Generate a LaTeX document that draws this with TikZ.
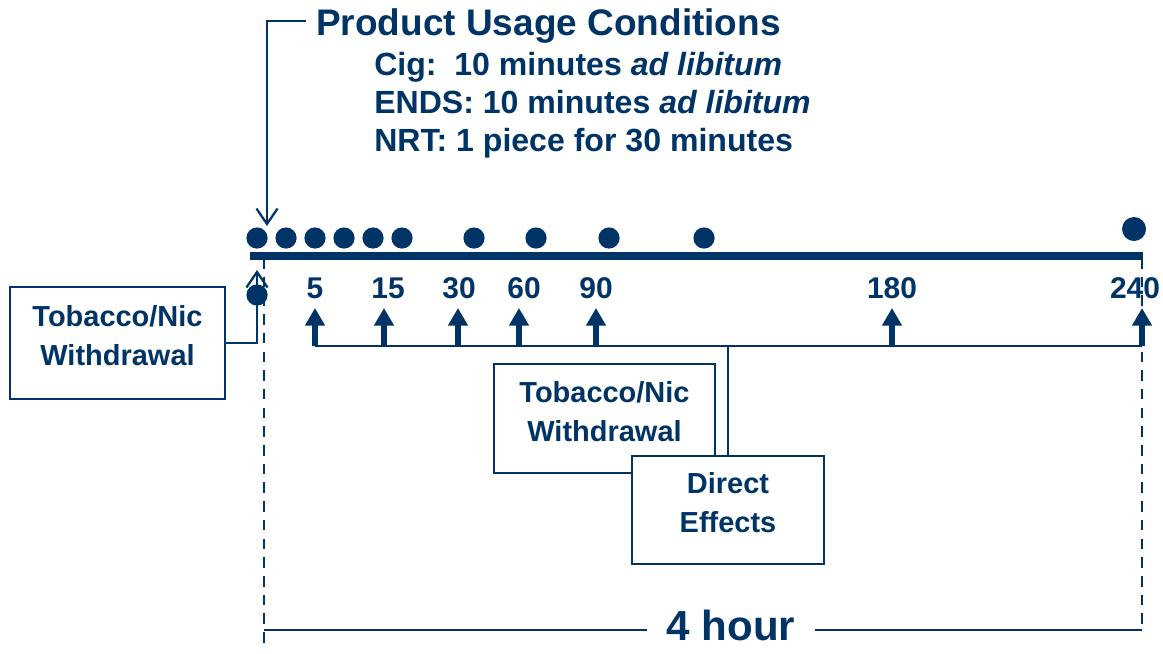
\documentclass[tikz,border=0pt]{standalone}
\usepackage{fontspec}
\setmainfont{Liberation Sans}
\usepackage{tikz}
\usetikzlibrary{arrows.meta,positioning,calc}
\definecolor{navy}{RGB}{0,51,102}

\tikzset{
	tdot/.style={circle,fill=navy,inner sep=0pt,minimum size=0.53cm},
	thinline/.style={navy,line width=1.6pt},
	wbox/.style={draw=navy,fill=white,line width=1.8pt,inner sep=0pt},
	boxtext/.style={text=navy,align=center,inner sep=0pt,font=\fontsize{20.6pt}{27.7pt}\selectfont\bfseries},
	ticklabel/.style={text=navy,anchor=base,inner sep=0pt,font=\fontsize{21.3pt}{25pt}\selectfont\bfseries},
	uparrow/.style={navy,line width=4.8pt,-{Triangle[width=13.5pt,length=12.5pt]}},
	openarrow/.style={thinline,-{Straight Barb[width=15pt,length=11pt]}},
	dashline/.style={navy,line width=1.9pt,dash pattern=on 7.5pt off 5.8pt},
	cond/.style={text=navy,anchor=base west,inner sep=0pt,font=\fontsize{22.8pt}{27pt}\selectfont\bfseries}
}

\begin{document}
\begin{tikzpicture}[x=0.025cm,y=-0.025cm]
	\useasboundingbox (0,0) rectangle (1163,653);
	% usage conditions
	\node[cond,font=\fontsize{26.3pt}{30pt}\selectfont\bfseries] (title) at (316,35) {Product Usage Conditions};
	\node[cond] (cig) at (374,75) {Cig:\ \ 10 minutes \textit{ad libitum}};
	\node[cond] (ends) at (374,113) {ENDS: 10 minutes \textit{ad libitum}};
	\node[cond] (nrt) at (374,151) {NRT: 1 piece for 30 minutes};
	\coordinate (tipT) at (267,226);
	\draw[openarrow] ([xshift=-7pt,yshift=3pt]title.west) -| (tipT);

	% timeline
	\coordinate (a0) at (250,256);
	\coordinate (a1) at (1143,256);
	\draw[navy,line width=5pt] (a0) -- (a1);
	\foreach \x [count=\i] in {257,286,315,344,373,402,474,536,609,704}
		\node[tdot] (d\i) at (\x,238) {};
	\node[tdot,minimum size=0.6cm] (dend) at (1134,229) {};

	% sample times
	\coordinate (brk0) at (315,346);
	\coordinate (brk1) at (1142,346);
	\draw[thinline] (brk0) -- (brk1);
	\foreach \t/\lx/\ax in {5/315/315,15/388/384,30/459/458,60/524/519,90/596/596,180/892/892,240/1135/1142}{
		\node[ticklabel] (t\t) at (\lx,298) {\t};
		\coordinate (u\t) at (\ax,308);
		\draw[uparrow] (u\t |- brk0) -- (u\t);
	}

	% boxes
	\node[wbox,minimum width=5.525cm,minimum height=2.725cm] (wd1) at (604.5,418.5) {};
	\node[boxtext] (wd1t) at ([yshift=5pt]wd1.center) {Tobacco/Nic\\Withdrawal};
	\node[wbox,minimum width=4.8cm,minimum height=2.7cm] (de) at (728,510) {};
	\node[boxtext] (det) at ([yshift=5pt]de.center) {Direct\\Effects};
	\draw[thinline] (de.north |- brk0) -- (de.north);

	\node[wbox,minimum width=5.375cm,minimum height=2.8cm] (wd0) at (117.5,343) {};
	\node[boxtext] (wd0t) at ([yshift=5pt]wd0.center) {Tobacco/Nic\\Withdrawal};
	\coordinate (tip0) at (257,270);
	\draw[openarrow] (wd0.east) -| (tip0);
	\node[tdot] (d0) at (257,295) {};

	% 4 hour span
	\node[anchor=base,text=navy,inner xsep=14pt,inner ysep=0pt,font=\fontsize{29.9pt}{34pt}\selectfont\bfseries] (hr) at (731,640) {4 hour};
	\coordinate (bl) at (264,630);
	\coordinate (br) at (1142,630);
	\draw[thinline] (bl) -- (bl -| hr.west);
	\draw[thinline] (hr.east |- br) -- (br);
	\coordinate (lt) at (264,258);
	\coordinate (lb) at (264,645);
	\coordinate (rt) at (1142,258);
	\draw[dashline] (lt) -- (lb);
	\draw[dashline] (rt) -- (br);
\end{tikzpicture}
\end{document}
